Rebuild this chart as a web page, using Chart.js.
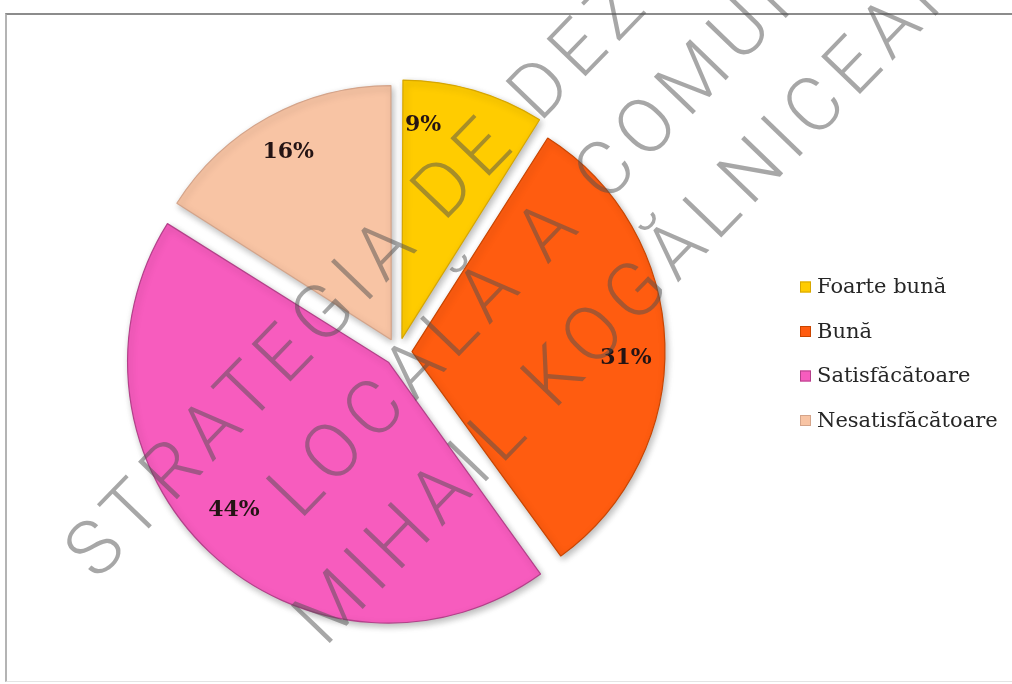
<!DOCTYPE html>
<html>
<head>
<meta charset="utf-8">
<script src="https://cdn.jsdelivr.net/npm/chart.js@4"></script>
<style>
  html, body { margin: 0; padding: 0; background: #fff; }
  #wrap { position: relative; width: 1012px; height: 684px; overflow: hidden; }
  #frame { position: absolute; left: 5px; top: 13px; width: 1100px; height: 666px;
           border-top: 2px solid #8c8c8c; border-left: 2px solid #b4b4b4; border-bottom: 1px solid #e4e4e4; }
  #myChart { position: absolute; left: 0; top: 0; }
  #mark { position: absolute; left: 0; top: 0; pointer-events: none; }
  #mark text { font-family: 'Roboto Light', 'Lato Light', 'Open Sans Light', 'DejaVu Sans ExtraLight', Roboto, sans-serif;
               font-weight: 300; font-size: 76px; letter-spacing: 9px; fill: rgba(80, 80, 80, 0.5); }
</style>
</head>
<body>
<div id="wrap">
  <div id="frame"></div>
  <canvas id="myChart" width="1012" height="684"></canvas>
  <svg id="mark" width="1012" height="684">
    <text x="97" y="582" transform="rotate(-46 97 582)">STRATEGIA DE DEZVOLTARE</text>
    <text x="300" y="521" transform="rotate(-46 300 521)">LOCALĂ A COMUNEI</text>
    <text x="325" y="648" transform="rotate(-46 325 648)">MIHAIL KOGĂLNICEANU</text>
  </svg>
</div>
<script>
const labels = ['Foarte bună', 'Bună', 'Satisfăcătoare', 'Nesatisfăcătoare'];
const values = [9, 31, 44, 16];
const colors = ['#FFCC00', '#FF5C10', '#F75CBE', '#F8C4A4'];
const edges = ['#D6A600', '#C94500', '#B4408A', '#D4A48A'];

// soft shadow under the slices
const sliceShadow = {
    id: 'sliceShadow',
    beforeDatasetsDraw(chart) {
        const ctx = chart.ctx;
        ctx.save();
        ctx.shadowColor = 'rgba(0,0,0,0.28)';
        ctx.shadowBlur = 7;
        ctx.shadowOffsetX = 2;
        ctx.shadowOffsetY = 3;
    },
    afterDatasetsDraw(chart) {
        chart.ctx.restore();
    }
};

// percentage labels inside the slices
const pctLabels = {
    id: 'pctLabels',
    afterDatasetsDraw(chart, args, opts) {
        const ctx = chart.ctx;
        const meta = chart.getDatasetMeta(0);
        const total = values.reduce((a, b) => a + b, 0);
        ctx.save();
        ctx.font = opts.font;
        ctx.fillStyle = opts.color;
        ctx.textAlign = 'center';
        ctx.textBaseline = 'middle';
        meta.data.forEach((arc, i) => {
            const mid = (arc.startAngle + arc.endAngle) / 2;
            const shift = (arc.options.offset || 0) / 4;
            const a = mid + (opts.nudge[i] || 0) * Math.PI / 180;
            const cx = arc.x + Math.cos(mid) * shift;
            const cy = arc.y + Math.sin(mid) * shift;
            const txt = Math.round(values[i] / total * 100) + '%';
            ctx.fillText(txt, cx + Math.cos(a) * opts.dist, cy + Math.sin(a) * opts.dist);
        });
        ctx.restore();
    }
};

// legend on the right
const sideLegend = {
    id: 'sideLegend',
    afterDraw(chart, args, opts) {
        const ctx = chart.ctx;
        const ds = chart.data.datasets[0];
        ctx.save();
        ctx.font = opts.font;
        ctx.textBaseline = 'middle';
        ctx.textAlign = 'left';
        chart.data.labels.forEach((lab, i) => {
            const y = opts.y + i * opts.step;
            ctx.fillStyle = ds.backgroundColor[i];
            ctx.fillRect(opts.x, y - opts.box / 2, opts.box, opts.box);
            ctx.strokeStyle = ds.borderColor[i];
            ctx.lineWidth = 1;
            ctx.strokeRect(opts.x + 0.5, y - opts.box / 2 + 0.5, opts.box - 1, opts.box - 1);
            ctx.fillStyle = opts.color;
            ctx.fillText(lab, opts.x + opts.box + 6, y + 1);
        });
        ctx.restore();
    }
};

const ctx = document.getElementById('myChart').getContext('2d');
const myChart = new Chart(ctx, {
    type: 'pie',
    data: {
        labels: labels,
        datasets: [{
            data: values,
            backgroundColor: colors,
            borderColor: edges,
            borderWidth: 1.2,
            offset: 56
        }]
    },
    options: {
        responsive: false,
        animation: false,
        radius: 252,
        layout: { padding: { left: 68, right: 284, top: 22, bottom: 2 } },
        plugins: {
            legend: { display: false },
            tooltip: { enabled: false },
            pctLabels: {
                font: 'bold 22px "DejaVu Serif", serif',
                color: '#241414',
                dist: 214,
                nudge: [-10.5, 3.5, 3, 0]
            },
            sideLegend: {
                x: 800, y: 287, step: 44.5, box: 11,
                font: '21px "DejaVu Serif", serif',
                color: '#262626'
            }
        }
    },
    plugins: [sliceShadow, pctLabels, sideLegend]
});
</script>
</body>
</html>
